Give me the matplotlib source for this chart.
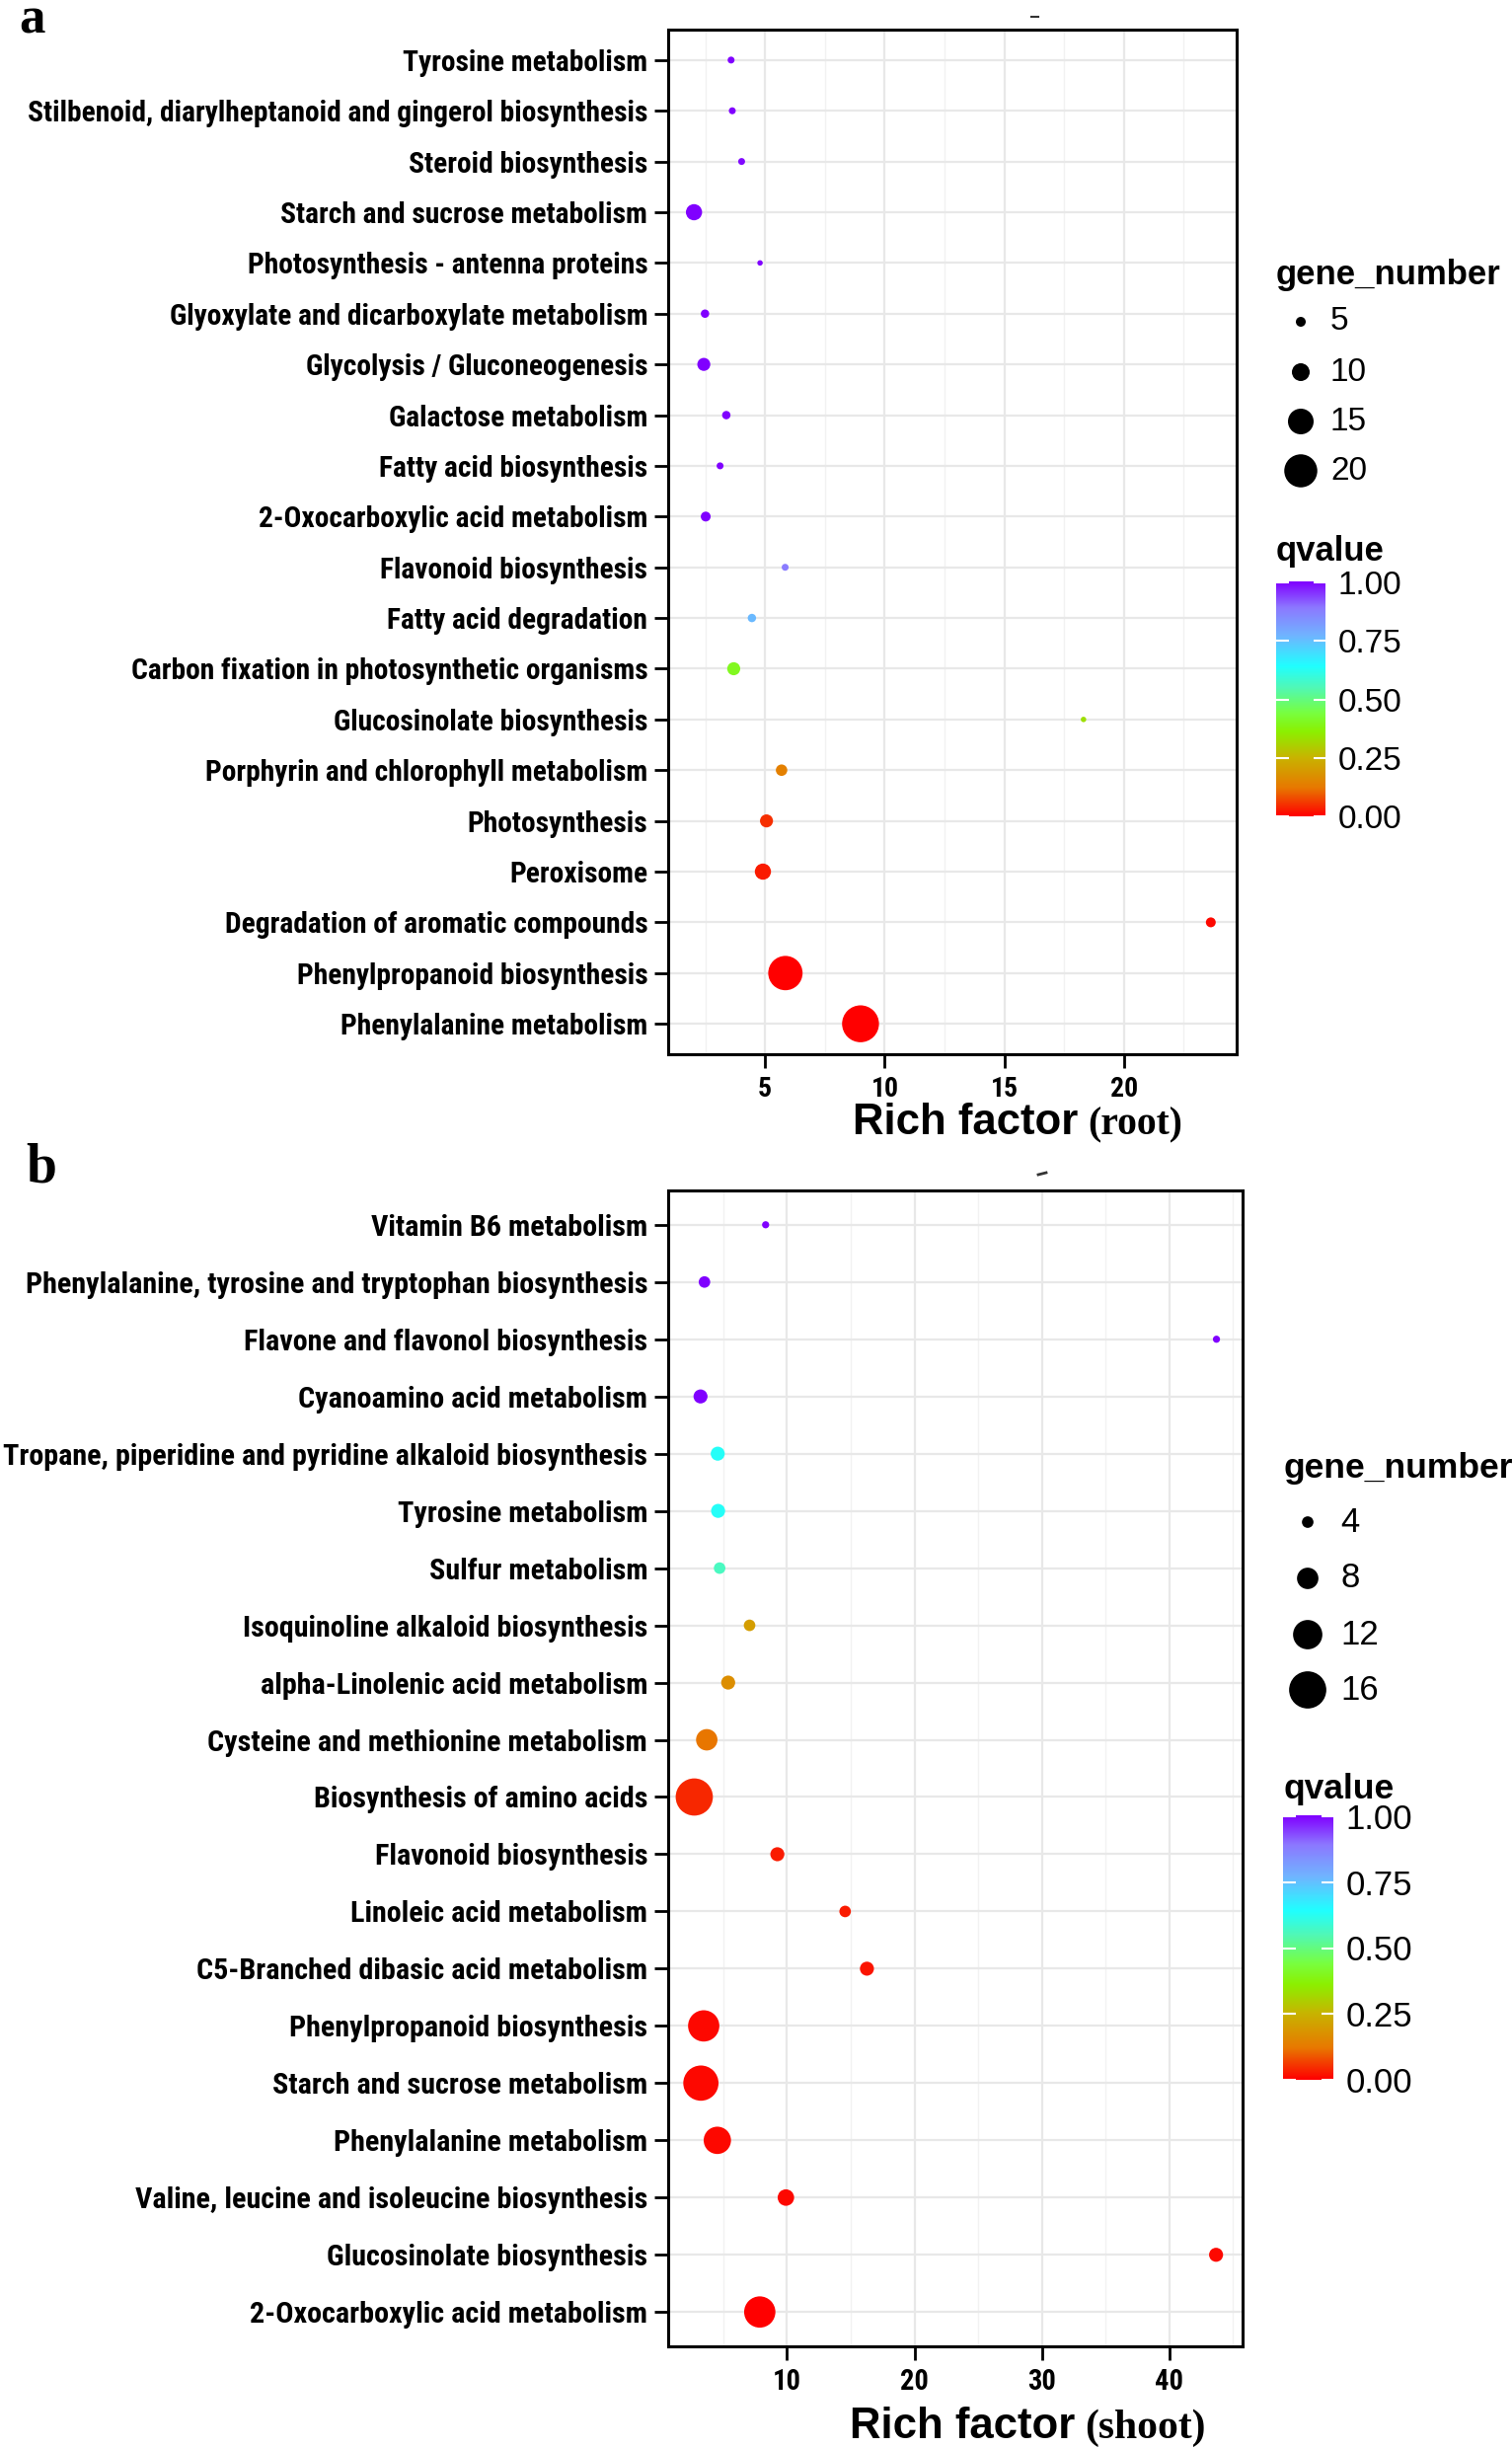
import numpy as np
import matplotlib
matplotlib.use("Agg")
import matplotlib.pyplot as plt
from matplotlib import font_manager
from matplotlib.colors import LinearSegmentedColormap
from matplotlib.lines import Line2D

# ---------------- data ----------------
root_pathways = [
    "Tyrosine metabolism",
    "Stilbenoid, diarylheptanoid and gingerol biosynthesis",
    "Steroid biosynthesis",
    "Starch and sucrose metabolism",
    "Photosynthesis - antenna proteins",
    "Glyoxylate and dicarboxylate metabolism",
    "Glycolysis / Gluconeogenesis",
    "Galactose metabolism",
    "Fatty acid biosynthesis",
    "2-Oxocarboxylic acid metabolism",
    "Flavonoid biosynthesis",
    "Fatty acid degradation",
    "Carbon fixation in photosynthetic organisms",
    "Glucosinolate biosynthesis",
    "Porphyrin and chlorophyll metabolism",
    "Photosynthesis",
    "Peroxisome",
    "Degradation of aromatic compounds",
    "Phenylpropanoid biosynthesis",
    "Phenylalanine metabolism",
]
root_rich = [3.58, 3.63, 4.02, 2.03, 4.79, 2.49, 2.44, 3.38, 3.12, 2.52,
             5.84, 4.45, 3.69, 18.31, 5.69, 5.06, 4.91, 23.63, 5.85, 8.99]
root_genes = [3, 3, 3, 9, 2, 4, 7, 4, 3, 5, 3, 4, 7, 2, 6, 7, 9, 5, 21, 23]
root_q = [1.0, 1.0, 0.99, 1.0, 1.0, 1.0, 1.0, 1.0, 1.0, 1.0,
          0.88, 0.76, 0.40, 0.33, 0.14, 0.05, 0.03, 0.01, 0.0, 0.0]

shoot_pathways = [
    "Vitamin B6 metabolism",
    "Phenylalanine, tyrosine and tryptophan biosynthesis",
    "Flavone and flavonol biosynthesis",
    "Cyanoamino acid metabolism",
    "Tropane, piperidine and pyridine alkaloid biosynthesis",
    "Tyrosine metabolism",
    "Sulfur metabolism",
    "Isoquinoline alkaloid biosynthesis",
    "alpha-Linolenic acid metabolism",
    "Cysteine and methionine metabolism",
    "Biosynthesis of amino acids",
    "Flavonoid biosynthesis",
    "Linoleic acid metabolism",
    "C5-Branched dibasic acid metabolism",
    "Phenylpropanoid biosynthesis",
    "Starch and sucrose metabolism",
    "Phenylalanine metabolism",
    "Valine, leucine and isoleucine biosynthesis",
    "Glucosinolate biosynthesis",
    "2-Oxocarboxylic acid metabolism",
]
shoot_rich = [8.32, 3.52, 43.7, 3.21, 4.56, 4.59, 4.71, 7.06, 5.38, 3.70,
              2.72, 9.24, 14.56, 16.27, 3.46, 3.24, 4.53, 9.91, 43.67, 7.86]
shoot_genes = [2, 4, 2, 5, 5, 5, 4, 4, 5, 8, 16, 5, 4, 5, 13, 15, 11, 6, 5, 13]
shoot_q = [1.0, 1.0, 1.0, 1.0, 0.63, 0.63, 0.56, 0.20, 0.17, 0.12,
           0.04, 0.03, 0.03, 0.02, 0.01, 0.01, 0.01, 0.01, 0.01, 0.0]

root_xticks = [5, 10, 15, 20]
shoot_xticks = [10, 20, 30, 40]
root_size_breaks = [5, 10, 15, 20]
shoot_size_breaks = [4, 8, 12, 16]
q_ticks = [0.0, 0.25, 0.50, 0.75, 1.00]
q_ticklabels = ["0.00", "0.25", "0.50", "0.75", "1.00"]

# ---------------- style ----------------
W, H = 1532, 2481
DPI = 100
PT = 72.0 / DPI  # points per pixel

names = {f.name for f in font_manager.fontManager.ttflist}
NARROW = "Liberation Sans"
for cand in ["Liberation Sans Narrow", "Roboto Condensed", "Open Sans Condensed",
             "Arial Narrow", "Liberation Sans"]:
    if cand in names:
        NARROW = cand
        break
SANS = "Liberation Sans"
SERIF = "Liberation Serif"

cmap = LinearSegmentedColormap.from_list("qv", [
    (0.00, "#FF0000"),
    (0.12, "#E87800"),
    (0.25, "#C8B400"),
    (0.36, "#8CF000"),
    (0.44, "#78FF40"),
    (0.55, "#50F8B8"),
    (0.64, "#20FFFF"),
    (0.77, "#70B4FF"),
    (0.89, "#8C78FF"),
    (1.00, "#8000FF"),
])

# marker diameter (pixels) as function of gene number, per panel
def diam_root(g):
    return np.interp(g, [1, 5, 10, 15, 20, 25], [4, 10, 18, 26, 33.5, 40])

def diam_shoot(g):
    return np.interp(g, [1, 4, 8, 12, 16, 20], [5, 11.7, 21.7, 29.7, 37.7, 44])

def rect(l, t, r, b):
    return [l / W, 1 - b / H, (r - l) / W, (b - t) / H]

def fx(x):
    return x / W

def fy(y):
    return 1 - y / H

fig = plt.figure(figsize=(W / DPI, H / DPI), dpi=DPI)
renderer = fig.canvas.get_renderer()

def fit_size(text, family, weight, target_px, base=18.0):
    t = fig.text(0, 0, text, fontfamily=family, fontweight=weight, fontsize=base)
    w = t.get_window_extent(renderer=renderer).width
    t.remove()
    return base * target_px / w

LAB_A = min(fit_size(root_pathways[1], NARROW, "bold", 628), 22)
LAB_B = min(fit_size(shoot_pathways[4], NARROW, "bold", 652), 22)
TICK_A = min(fit_size("10", NARROW, "bold", 28), 24)
TICK_B = TICK_A * 1.03

def draw_panel(box, labels, rich, genes, q, dfunc, xticks, label_fs, tick_fs):
    ax = fig.add_axes(rect(*box))
    n = len(labels)
    y = np.arange(n)[::-1]
    rich = np.asarray(rich, float)
    d = dfunc(np.asarray(genes, float))
    ax.scatter(rich, y, s=(d * PT) ** 2, c=q, cmap=cmap, vmin=0, vmax=1,
               edgecolors="none", zorder=3)
    lo, hi = rich.min(), rich.max()
    ex = 0.05 * (hi - lo)
    ax.set_xlim(lo - ex, hi + ex)
    ax.set_ylim(-0.6, n - 1 + 0.6)
    ax.set_yticks(y)
    ax.set_yticklabels(labels, fontfamily=NARROW, fontweight="bold", fontsize=label_fs)
    ax.set_xticks(xticks)
    ax.set_xticklabels([str(t) for t in xticks], fontfamily=NARROW,
                       fontweight="bold", fontsize=tick_fs)
    step = xticks[1] - xticks[0]
    minors = np.arange(xticks[0] - step / 2, hi + ex, step)
    ax.set_xticks(minors, minor=True)
    ax.grid(which="major", color="#E8E8E8", lw=1.6, zorder=0)
    ax.grid(which="minor", axis="x", color="#F2F2F2", lw=1.0, zorder=0)
    ax.set_axisbelow(True)
    for sp in ax.spines.values():
        sp.set_linewidth(2.2)
        sp.set_color("black")
    ax.tick_params(axis="both", which="major", length=10, width=2.0, color="black")
    ax.tick_params(axis="y", pad=5)
    ax.tick_params(axis="x", pad=6)
    ax.tick_params(which="minor", length=0)
    return ax

ax_a = draw_panel((677, 30, 1253, 1068), root_pathways, root_rich, root_genes,
                  root_q, diam_root, root_xticks, LAB_A, TICK_A)
ax_b = draw_panel((677, 1206, 1259, 2377), shoot_pathways, shoot_rich, shoot_genes,
                  shoot_q, diam_shoot, shoot_xticks, LAB_B, TICK_B)

# axis titles (mixed fonts)
def axis_title(xjoin, ybase, word, fs_sans, fs_serif):
    fig.text(fx(xjoin), fy(ybase), "Rich factor", fontfamily=SANS, fontweight="bold",
             fontsize=fs_sans, ha="right", va="baseline")
    fig.text(fx(xjoin + 10), fy(ybase), word, fontfamily=SERIF, fontweight="bold",
             fontsize=fs_serif, ha="left", va="baseline")

axis_title(1092, 1149, "(root)", 31.5, 28.5)
axis_title(1089, 2470, "(shoot)", 31.5, 30)

# panel letters
fig.text(fx(19), fy(33), "a", fontfamily=SERIF, fontweight="bold", fontsize=38,
         ha="left", va="baseline")
fig.text(fx(26), fy(1197), "b", fontfamily=SERIF, fontweight="bold", fontsize=40,
         ha="left", va="baseline")

# small stray marks near top of each panel
fig.add_artist(Line2D([fx(1045), fx(1052)], [fy(17), fy(17)], color="#333333", lw=1.5))
fig.add_artist(Line2D([fx(1052), fx(1060)], [fy(1190), fy(1188)], color="#333333", lw=2))

# overlay axes for size legends
ov = fig.add_axes([0, 0, 1, 1], zorder=-1)
ov.set_xlim(0, W)
ov.set_ylim(H, 0)
ov.axis("off")

def size_legend(title, tx, tbase, breaks, dfunc, cx, ys, lx, fs_t, fs_l):
    ov.text(tx, tbase, title, fontfamily=SANS, fontweight="bold", fontsize=fs_t,
            ha="left", va="baseline")
    d = dfunc(np.asarray(breaks, float))
    ov.scatter([cx] * len(breaks), ys, s=(d * PT) ** 2, c="black", edgecolors="none")
    for b, yy in zip(breaks, ys):
        ov.text(lx, yy, str(b), fontfamily=SANS, fontsize=fs_l, ha="left", va="center")

size_legend("gene_number", 1293, 288, root_size_breaks, diam_root, 1318,
            [326, 377, 427, 477], 1348, 25, 24)
size_legend("gene_number", 1300, 1497, shoot_size_breaks, diam_shoot, 1325,
            [1542, 1599, 1656, 1712], 1358, 25.5, 25)

def q_colorbar(box, title_base, ext, fs_t, fs_l):
    l, t, r, b = box
    cax = fig.add_axes(rect(l, t, r, b))
    grad = np.linspace(0, 1, 256).reshape(-1, 1)
    cax.imshow(grad, extent=[0, 1, 0, 1], origin="lower", aspect="auto", cmap=cmap,
               vmin=0, vmax=1)
    cax.set_ylim(-ext, 1 + ext)
    cax.set_xlim(0, 1)
    cax.set_xticks([])
    cax.set_yticks(q_ticks)
    cax.set_yticklabels(q_ticklabels, fontfamily=SANS, fontsize=fs_l)
    cax.tick_params(axis="y", left=True, right=True, labelleft=False, labelright=True,
                    direction="in", color="white", length=9, width=1.5, pad=9)
    for sp in cax.spines.values():
        sp.set_visible(False)
    fig.text(fx(l), fy(title_base), "qvalue", fontfamily=SANS, fontweight="bold",
             fontsize=fs_t, ha="left", va="baseline")

q_colorbar((1293, 584, 1343, 833), 568, 0.025, 25, 24)
q_colorbar((1300, 1833, 1351, 2114), 1822, 0.026, 25.5, 25)

fig.savefig("out.png", dpi=DPI, facecolor="white")
